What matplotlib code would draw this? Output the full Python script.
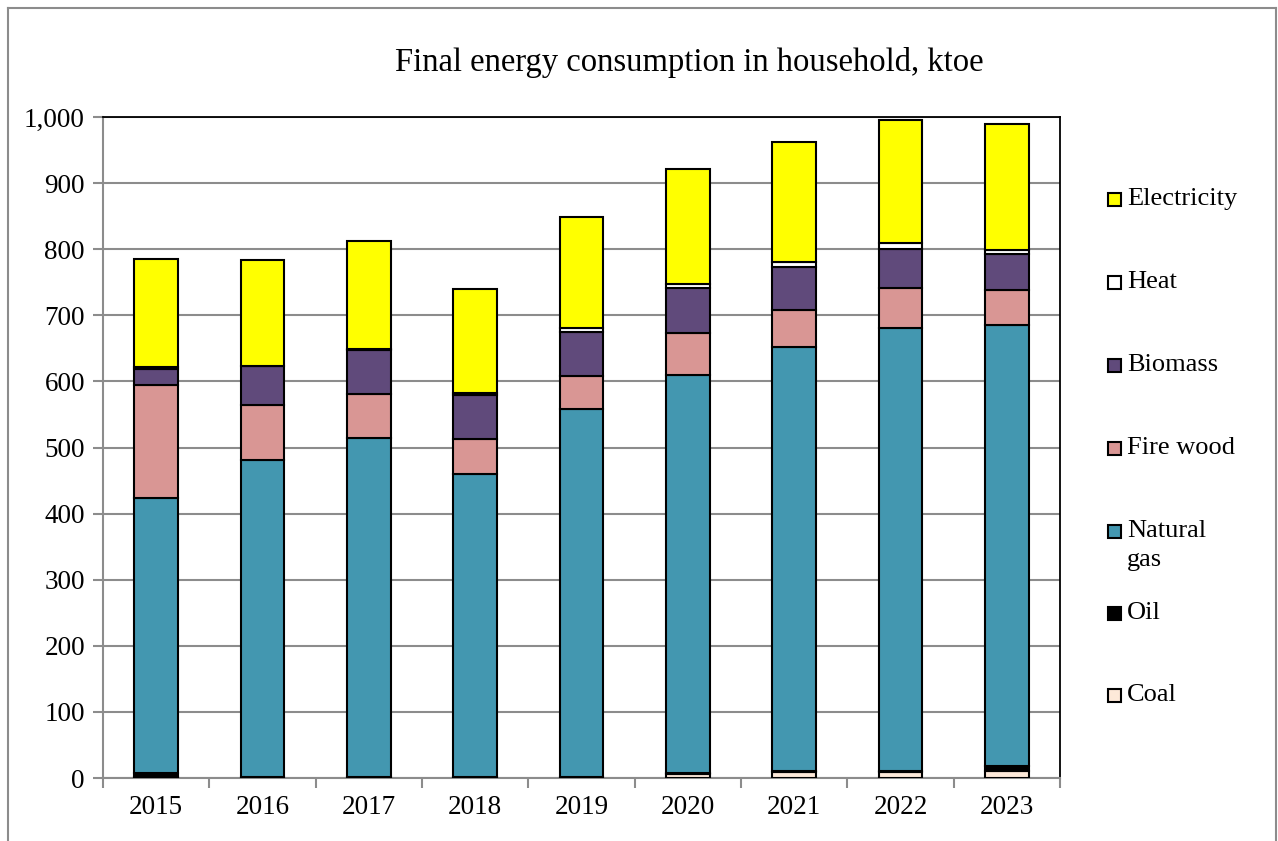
import numpy as np
import matplotlib.pyplot as plt
from matplotlib.patches import Rectangle
from matplotlib.lines import Line2D
from matplotlib.ticker import FuncFormatter

plt.rcParams['font.family'] = ['Liberation Serif', 'DejaVu Serif']

years = ['2015', '2016', '2017', '2018', '2019', '2020', '2021', '2022', '2023']
coal = [1, 0, 0, 0, 0, 6, 9, 9, 10]
oil = [6, 1, 1, 1, 1, 2, 2, 2, 8]
natural_gas = [416, 480, 514, 459, 557, 601, 641, 670, 667]
fire_wood = [172, 84, 66, 53, 50, 64, 56, 60, 53]
biomass = [24, 58, 67, 67, 66, 68, 65, 60, 54]
heat = [3, 1, 1, 2, 7, 7, 8, 9, 7]
electricity = [163, 159, 163, 158, 168, 174, 181, 186, 191]

series = [('Coal', coal, '#FDE9D9'),
          ('Oil', oil, '#000000'),
          ('Natural\ngas', natural_gas, '#4397B0'),
          ('Fire wood', fire_wood, '#D99694'),
          ('Biomass', biomass, '#604A7B'),
          ('Heat', heat, '#FFFFFF'),
          ('Electricity', electricity, '#FFFF00')]

W, H = 1278, 841
fig = plt.figure(figsize=(W / 100, H / 100), dpi=100)
ax = fig.add_axes([103 / W, 1 - 778 / H, (1060 - 103) / W, (778 - 117) / H])

x = np.arange(len(years))
bottom = np.zeros(len(years))
for name, vals, col in series:
    ax.bar(x, vals, 0.41, bottom=bottom, color=col, edgecolor='black', linewidth=1.5, zorder=3)
    bottom += np.array(vals)

ax.set_xlim(-0.5, len(years) - 0.5)
ax.set_ylim(0, 1000)
ax.set_yticks(np.arange(0, 1001, 100))
ax.yaxis.set_major_formatter(FuncFormatter(lambda v, p: f'{int(v):,}'))
ax.set_xticks(x)
ax.set_xticklabels(years)
ax.set_xticks(np.arange(-0.5, len(years), 1), minor=True)
ax.tick_params(axis='x', which='major', length=0, pad=12, labelsize=19.5)
ax.tick_params(axis='x', which='minor', length=7, width=1.5, color='#8C8C8C', direction='out')
ax.tick_params(axis='y', length=7, width=1.5, color='#8C8C8C', pad=6, labelsize=19.5)
ax.grid(axis='y', color='#8C8C8C', linewidth=1.5, zorder=0)

for s in ['left', 'bottom']:
    ax.spines[s].set_color('#8C8C8C')
    ax.spines[s].set_linewidth(1.5)
for s in ['top', 'right']:
    ax.spines[s].set_color('black')
    ax.spines[s].set_linewidth(1.3)

fig.text(689 / W, 1 - 62 / H, 'Final energy consumption in household, ktoe',
         ha='center', va='center', fontsize=23.5)

# legend drawn by hand to keep Excel layout
legend_y = {'Electricity': 199, 'Heat': 282, 'Biomass': 365, 'Fire wood': 448,
            'Natural\ngas': 531, 'Oil': 613, 'Coal': 695}
for name, vals, col in series:
    yc = legend_y[name]
    fig.add_artist(Rectangle((1108 / W, 1 - (yc + 7) / H), 13 / W, 13 / H,
                             facecolor=col, edgecolor='black', linewidth=1.5,
                             transform=fig.transFigure))
    lines = name.split('\n')
    for i, t in enumerate(lines):
        fig.text(1127 / W, 1 - (yc + i * 29) / H, t, ha='left', va='center', fontsize=19)

# chart area border
for xs, ys in [([8, 8], [8, H]), ([8, 1276], [8, 8]), ([1276, 1276], [8, H])]:
    fig.add_artist(Line2D([v / W for v in xs], [1 - v / H for v in ys],
                          color='#8C8C8C', linewidth=1.5, transform=fig.transFigure))

fig.savefig('out.png', dpi=100)
